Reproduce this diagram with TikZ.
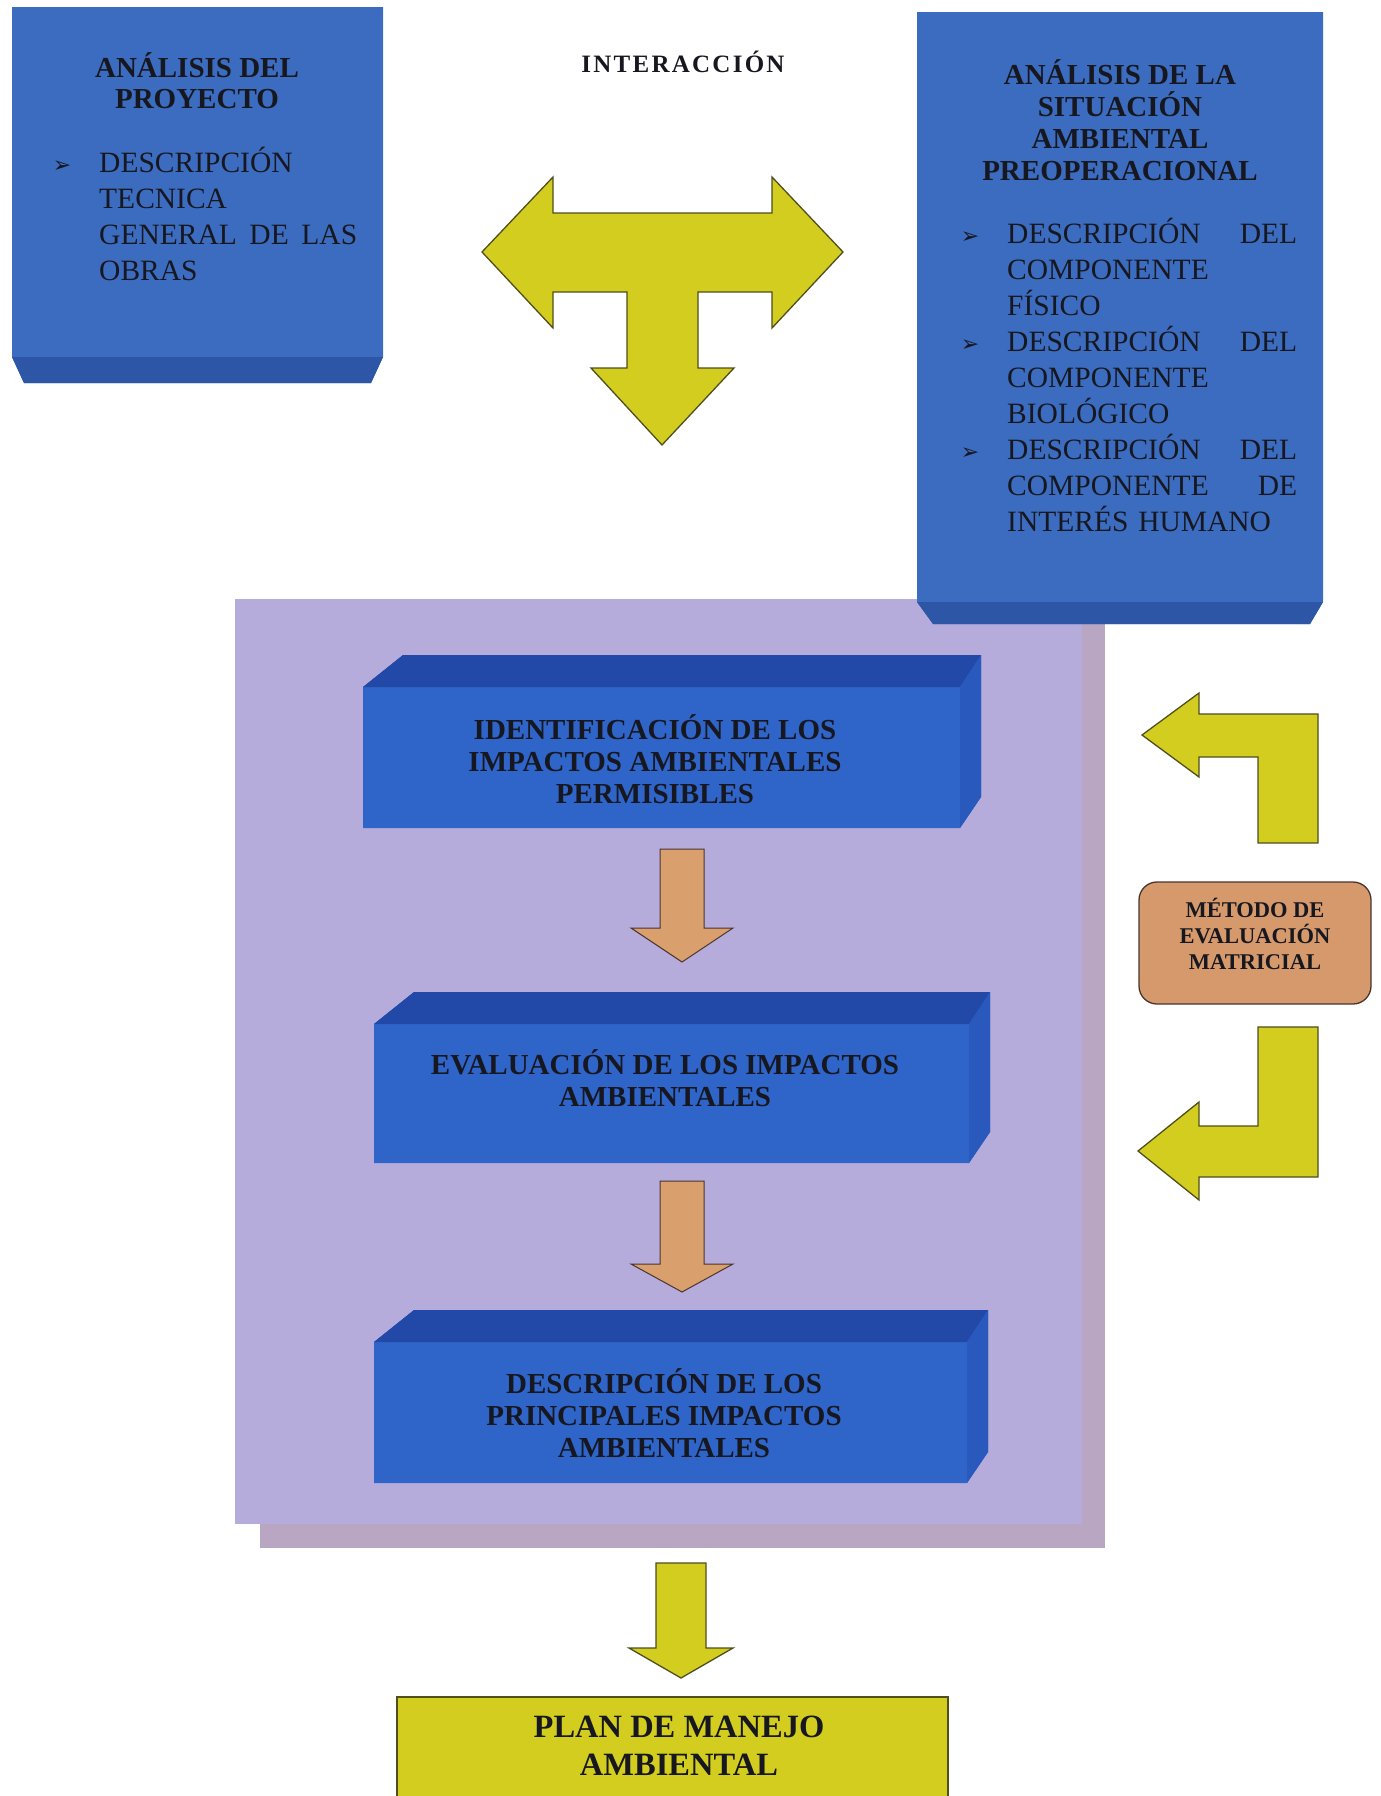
\documentclass[tikz,border=0pt]{standalone}
\usepackage{fontspec}
\setmainfont{Liberation Serif}
\newfontfamily\symfont{DejaVu Sans}
\definecolor{azulsup}{HTML}{3C6CBF}
\definecolor{azulbase}{HTML}{2E56A6}
\definecolor{azulfr}{HTML}{2F64C8}
\definecolor{azultapa}{HTML}{2249A8}
\definecolor{azullado}{HTML}{2959BC}
\definecolor{lila}{HTML}{B5ACDC}
\definecolor{lilasombra}{HTML}{B9A6C2}
\definecolor{amarillo}{HTML}{D3CD20}
\definecolor{oliva}{HTML}{4F4F1E}
\definecolor{naranja}{HTML}{D99F6C}
\definecolor{metodo}{HTML}{D5996C}
\definecolor{marron}{HTML}{4A3430}
\definecolor{tinta}{HTML}{17171F}
\newcommand\vineta{\leavevmode\llap{{\fontsize{22}{22}\symfont ➢}\hspace{28pt}}}
\begin{document}
\begin{tikzpicture}[x=1pt,y=-1pt,
	titulo/.style={font=\bfseries\fontsize{29}{31}\selectfont,align=center,text=tinta,inner sep=0pt,anchor=base},
	lista/.style={font=\fontsize{29.5}{36}\selectfont,align=left,text=tinta,inner sep=0pt,anchor=base west},
	rotulo/.style={font=\bfseries\fontsize{29}{32}\selectfont,align=center,text=tinta,inner sep=0pt,anchor=base},
	flechaam/.style={fill=amarillo,draw=oliva,line width=1.3pt},
	flechana/.style={fill=naranja,draw=marron,line width=1pt}]
	\useasboundingbox (0,0) rectangle (1381,1796);
	\clip (0,0) rectangle (1381,1796);
	\fill[lilasombra] (260,623) rectangle (1105,1548);
	\fill[lila] (235,599) rectangle (1082,1524);
	\fill[azulsup] (12,7) -- (383,7) -- (383,357) -- (371,383) -- (24,383) -- (12,357) -- cycle;
	\fill[azulbase] (12,357) -- (383,357) -- (371,383) -- (24,383) -- cycle;
	\fill[azulsup] (917,12) -- (1323,12) -- (1323,602) -- (1310,624) -- (933,624) -- (917,602) -- cycle;
	\fill[azulbase] (917,602) -- (1323,602) -- (1310,624) -- (933,624) -- cycle;
	\foreach \xa/\ya/\xb/\yb in {363/655/981/828, 374/992/990/1163, 374/1310/988/1483}{
		\fill[azulfr] (\xa,\ya+32) -- (\xa+40,\ya) -- (\xb,\ya) -- (\xb,\yb-31) -- (\xb-21,\yb) -- (\xa,\yb) -- cycle;
		\fill[azultapa] (\xa,\ya+32) -- (\xa+40,\ya) -- (\xb,\ya) -- (\xb-21,\ya+32) -- cycle;
		\fill[azullado] (\xb-21,\ya+32) -- (\xb,\ya) -- (\xb,\yb-31) -- (\xb-21,\yb) -- cycle;
	}
	\filldraw[flechaam] (482,252) -- (553,177) -- (553,213) -- (772,213) -- (772,177) -- (843,252) -- (772,328) -- (772,292) -- (698,292) -- (698,368) -- (734,368) -- (662,445) -- (591,368) -- (627,368) -- (627,292) -- (553,292) -- (553,328) -- cycle;
	\filldraw[flechaam] (1142,735) -- (1199,693) -- (1199,714) -- (1318,714) -- (1318,843) -- (1258,843) -- (1258,757) -- (1199,757) -- (1199,777) -- cycle;
	\filldraw[flechaam] (1258,1027) -- (1318,1027) -- (1318,1177) -- (1199,1177) -- (1199,1200) -- (1138,1151) -- (1199,1102) -- (1199,1126) -- (1258,1126) -- cycle;
	\foreach \ya/\yb/\yc in {849/928/962, 1181/1264/1292}
		\filldraw[flechana] (660,\ya) -- (704,\ya) -- (704,\yb) -- (733,\yb) -- (682,\yc) -- (631,\yb) -- (660,\yb) -- cycle;
	\filldraw[flechaam] (656,1563) -- (706,1563) -- (706,1648) -- (733,1648) -- (681,1678) -- (629,1648) -- (656,1648) -- cycle;
	\filldraw[fill=amarillo,draw=oliva,line width=1.5pt] (397,1697) rectangle (948,1830);
	\filldraw[fill=metodo,draw=marron,line width=1.3pt,rounded corners=18pt] (1139,882) rectangle (1371,1004);
	\node[titulo,font=\bfseries\fontsize{25}{27}\selectfont\addfontfeature{LetterSpace=9}] (interac) at (683,72) {INTERACCIÓN};
	\node[titulo] (proyecto) at (197,108) {ANÁLISIS DEL\\PROYECTO};
	\node[lista,text width=258pt] (obras) at (99,172) {\vineta DESCRIPCIÓN\\TECNICA\\GENERAL \hfill DE \hfill LAS\\OBRAS};
	\node[titulo,font=\bfseries\fontsize{29}{32}\selectfont] (situacion) at (1120,180) {ANÁLISIS DE LA\\SITUACIÓN\\AMBIENTAL\\PREOPERACIONAL};
	\node[lista,text width=290pt] (componentes) at (1007,243) {\vineta DESCRIPCIÓN \hfill DEL\\COMPONENTE\\FÍSICO\\\vineta DESCRIPCIÓN \hfill DEL\\COMPONENTE\\BIOLÓGICO\\\vineta DESCRIPCIÓN \hfill DEL\\COMPONENTE \hfill DE\\INTERÉS HUMANO};
	\node[rotulo] (identif) at (655,803) {IDENTIFICACIÓN DE LOS\\IMPACTOS AMBIENTALES\\PERMISIBLES};
	\node[rotulo] (evalua) at (665,1106) {EVALUACIÓN DE LOS IMPACTOS\\AMBIENTALES};
	\node[rotulo] (principales) at (664,1457) {DESCRIPCIÓN DE LOS\\PRINCIPALES IMPACTOS\\AMBIENTALES};
	\node[rotulo,font=\bfseries\fontsize{22.5}{26}\selectfont] (matricial) at (1255,969) {MÉTODO DE\\EVALUACIÓN\\MATRICIAL};
	\node[rotulo,font=\bfseries\fontsize{32.5}{38}\selectfont] (plan) at (679,1775) {PLAN DE MANEJO\\AMBIENTAL};
\end{tikzpicture}
\end{document}
